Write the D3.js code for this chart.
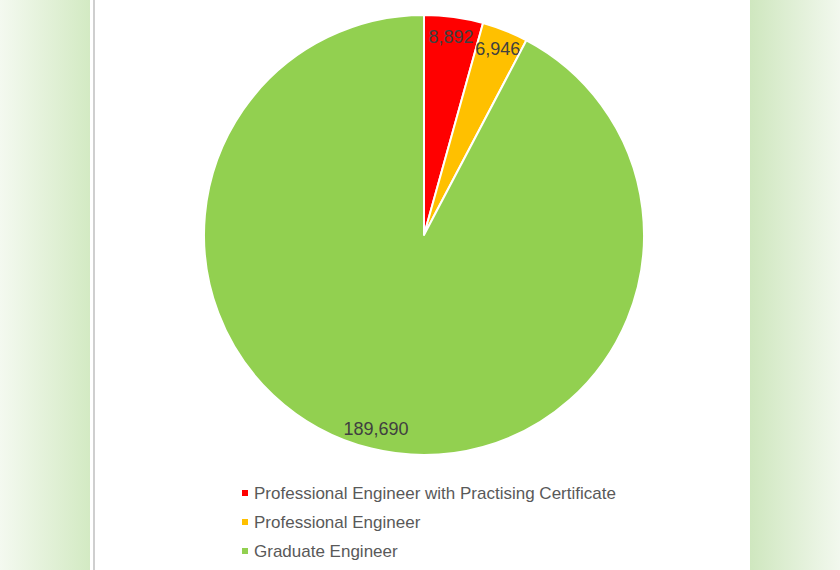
<!DOCTYPE html>
<html>
<head>
<meta charset="utf-8">
<script src="https://cdn.jsdelivr.net/npm/d3@7"></script>
<style>
  html, body { margin: 0; padding: 0; background: #ffffff; }
  svg { display: block; font-family: "Liberation Sans", Arial, sans-serif; }
</style>
</head>
<body>
<div id="chart"></div>
<script>
// chart data
var categories = ["Professional Engineer with Practising Certificate", "Professional Engineer", "Graduate Engineer"];
var values = [8892, 6946, 189690];
var sliceColors = ["#ff0000", "#ffc000", "#92d050"];

var width = 840;
var height = 570;
var cx = 424;
var cy = 235;
var radius = 220;

var svg = d3.select("#chart")
    .append("svg")
    .attr("width", width)
    .attr("height", height);

// side backgrounds (page behind the chart panel)
var defs = svg.append("defs");
var gl = defs.append("linearGradient").attr("id", "leftBg").attr("x1", "0").attr("x2", "1");
gl.append("stop").attr("offset", "0%").attr("stop-color", "#f4f9f0");
gl.append("stop").attr("offset", "100%").attr("stop-color", "#d3eac3");
var gr = defs.append("linearGradient").attr("id", "rightBg").attr("x1", "0").attr("x2", "1");
gr.append("stop").attr("offset", "0%").attr("stop-color", "#cfe7bf");
gr.append("stop").attr("offset", "100%").attr("stop-color", "#f2f8ee");

svg.append("rect").attr("x", 0).attr("y", 0).attr("width", 90).attr("height", height).attr("fill", "url(#leftBg)");
svg.append("rect").attr("x", 750).attr("y", 0).attr("width", 90).attr("height", height).attr("fill", "url(#rightBg)");
svg.append("rect").attr("x", 93).attr("y", 0).attr("width", 2).attr("height", height).attr("fill", "#cfcfcf");

var data = categories.map(function (c, i) {
    return { name: c, value: values[i], color: sliceColors[i] };
});

var pie = d3.pie()
    .sort(null)
    .value(function (d) { return d.value; });

var arc = d3.arc()
    .innerRadius(0)
    .outerRadius(radius);

var labelArc = d3.arc()
    .innerRadius(200)
    .outerRadius(200);

var g = svg.append("g")
    .attr("transform", "translate(" + cx + "," + cy + ")");

var arcs = g.selectAll(".arc")
    .data(pie(data))
    .enter()
    .append("g")
    .attr("class", "arc");

arcs.append("path")
    .attr("d", arc)
    .attr("fill", function (d) { return d.data.color; })
    .attr("stroke", "#ffffff")
    .attr("stroke-width", 2)
    .attr("stroke-linejoin", "round");

var fmt = d3.format(",");

arcs.append("text")
    .attr("transform", function (d) { return "translate(" + labelArc.centroid(d) + ")"; })
    .attr("text-anchor", "middle")
    .attr("dy", "0.35em")
    .attr("font-size", 18)
    .attr("fill", "#404040")
    .text(function (d) { return fmt(d.data.value); });

// legend
var legend = svg.append("g")
    .attr("transform", "translate(242,0)");

var rows = legend.selectAll(".row")
    .data(data)
    .enter()
    .append("g")
    .attr("class", "row")
    .attr("transform", function (d, i) { return "translate(0," + (493 + i * 29) + ")"; });

rows.append("rect")
    .attr("x", 0)
    .attr("y", -3)
    .attr("width", 6)
    .attr("height", 6)
    .attr("fill", function (d) { return d.color; });

rows.append("text")
    .attr("x", 12)
    .attr("dy", "0.35em")
    .attr("font-size", 17)
    .attr("fill", "#595959")
    .text(function (d) { return d.name; });
</script>
</body>
</html>
